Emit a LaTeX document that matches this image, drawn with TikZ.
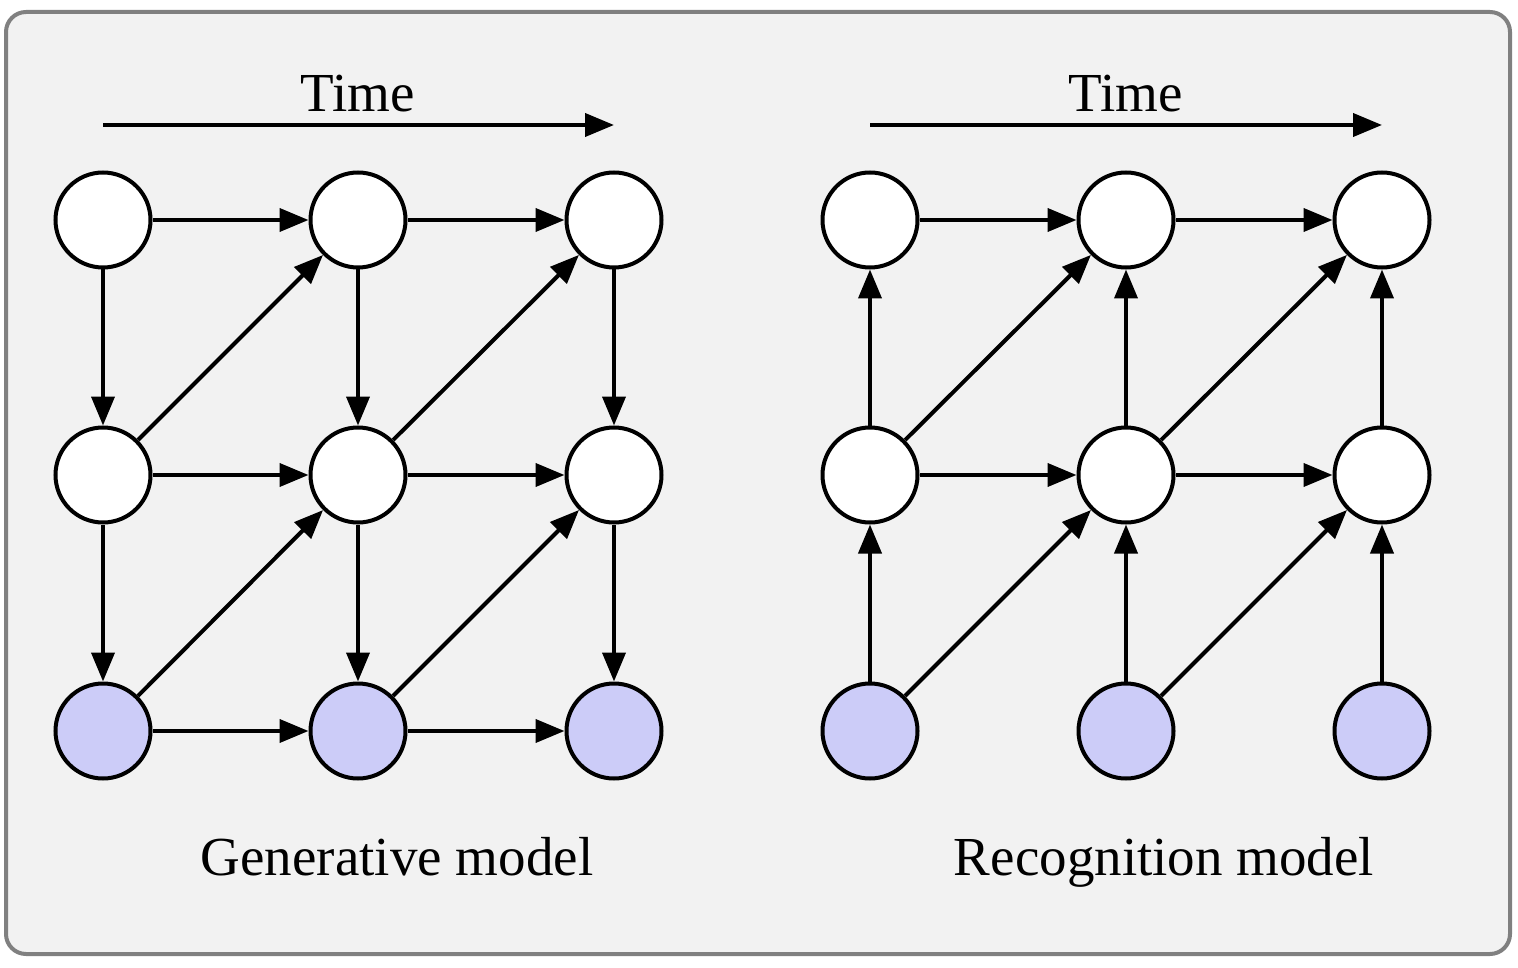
\documentclass[tikz,border=0pt]{standalone}
\usepackage{fontspec}
\setmainfont{Liberation Serif}
\usetikzlibrary{arrows.meta}
\definecolor{boxfill}{RGB}{242,242,242}
\definecolor{boxline}{RGB}{128,128,128}
\definecolor{obsfill}{RGB}{204,204,248}
\tikzset{
  latent/.style={circle, draw=black, line width=4pt, fill=white, minimum size=95pt, inner sep=0pt},
  observed/.style={latent, fill=obsfill},
  edge/.style={line width=4pt, -{Triangle[length=29pt,width=23pt]}},
  lbl/.style={font=\fontsize{55}{60}\selectfont, anchor=base, inner sep=0pt}
}
\begin{document}
\begin{tikzpicture}[x=1pt,y=-1pt]
\useasboundingbox (0,0) rectangle (1518,968);
\draw[line width=4pt, draw=boxline, fill=boxfill, rounded corners=20pt] (6,12) rectangle (1510,954);

% Generative model
\foreach \c/\x in {1/103,2/358,3/614}{
  \node[latent] (ga\c) at (\x,220) {};
  \node[latent] (gb\c) at (\x,475) {};
  \node[observed] (gc\c) at (\x,731) {};
}
\coordinate (gt1) at (103,125);
\coordinate (gt2) at (614,125);
\draw[edge] (gt1) -- (gt2);
\node[lbl] (gtime) at (358,112) {Time};
\foreach \r in {a,b,c}{
  \draw[edge] (g\r1) -- (g\r2);
  \draw[edge] (g\r2) -- (g\r3);
}
\foreach \c in {1,2,3}{
  \draw[edge] (ga\c) -- (gb\c);
  \draw[edge] (gb\c) -- (gc\c);
}
\draw[edge] (gb1) -- (ga2);
\draw[edge] (gb2) -- (ga3);
\draw[edge] (gc1) -- (gb2);
\draw[edge] (gc2) -- (gb3);
\node[lbl] (glabel) at (397,875) {Generative model};

% Recognition model
\foreach \c/\x in {1/870,2/1126,3/1382}{
  \node[latent] (ra\c) at (\x,220) {};
  \node[latent] (rb\c) at (\x,475) {};
  \node[observed] (rc\c) at (\x,731) {};
}
\coordinate (rt1) at (870,125);
\coordinate (rt2) at (1382,125);
\draw[edge] (rt1) -- (rt2);
\node[lbl] (rtime) at (1126,112) {Time};
\foreach \r in {a,b}{
  \draw[edge] (r\r1) -- (r\r2);
  \draw[edge] (r\r2) -- (r\r3);
}
\foreach \c in {1,2,3}{
  \draw[edge] (rb\c) -- (ra\c);
  \draw[edge] (rc\c) -- (rb\c);
}
\draw[edge] (rb1) -- (ra2);
\draw[edge] (rb2) -- (ra3);
\draw[edge] (rc1) -- (rb2);
\draw[edge] (rc2) -- (rb3);
\node[lbl] (rlabel) at (1164,875) {Recognition model};
\end{tikzpicture}
\end{document}
